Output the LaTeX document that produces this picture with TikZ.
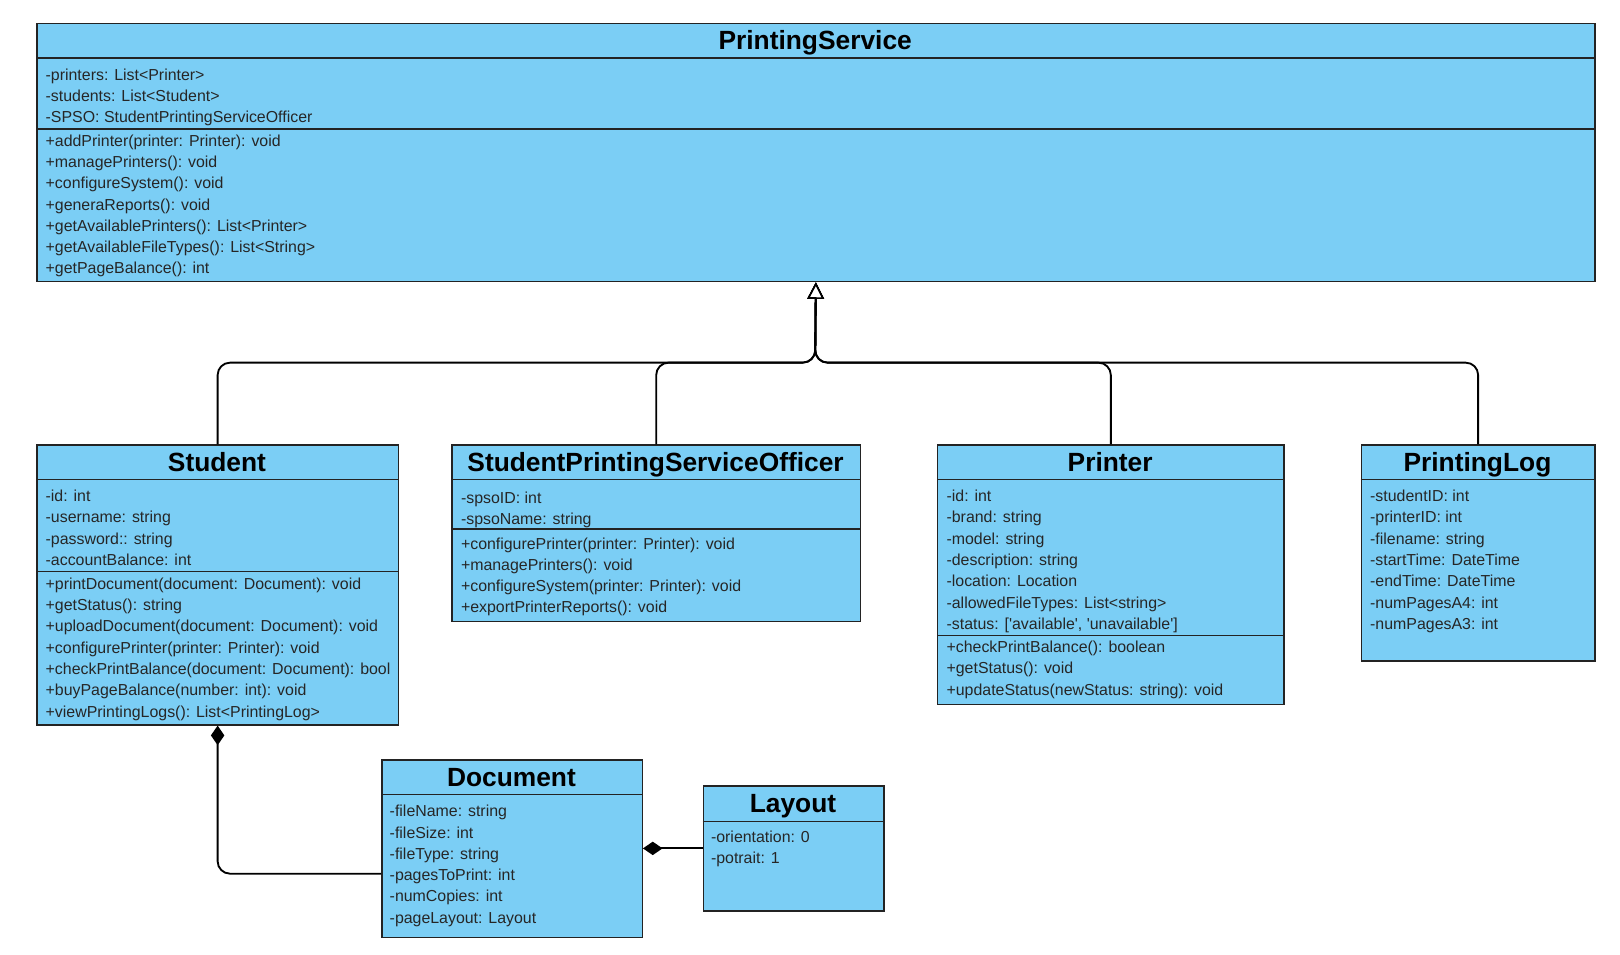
\documentclass[tikz,border=0pt]{standalone}
\usepackage{fontspec}
\setmainfont{Liberation Sans}
\usetikzlibrary{arrows.meta}
\definecolor{cls}{RGB}{123,206,245}
\definecolor{edgec}{RGB}{35,35,35}
\begin{document}
\begin{tikzpicture}[x=1pt,y=-1pt,
  classbox/.style={draw=edgec, line width=1.3pt, fill=cls, inner sep=0pt, anchor=north west},
  sepline/.style={draw=edgec, line width=1.3pt},
  ttl/.style={font=\fontsize{25.5}{28}\selectfont\bfseries, inner sep=0pt, text height=18.3pt, text depth=0pt, anchor=center},
  txt/.style={font=\fontsize{15.4}{18}\selectfont, inner sep=0pt, text height=13pt, text depth=0pt, anchor=west, text=black!85},
  conn/.style={draw=black, line width=1.8pt},
  gen/.style={conn, rounded corners=12pt, -{Triangle[length=16pt,width=16pt,fill=white,line width=1.6pt]}},
  comp/.style={conn, rounded corners=12pt, -{Diamond[length=19pt,width=13pt]}}
]
\useasboundingbox (0,0) rectangle (1568,923.5);

% PrintingService
\node[classbox, minimum width=1508pt, minimum height=250pt] (ps) at (35,22) {};
\draw[sepline] ([yshift=-34pt]ps.north west) -- ([yshift=-34pt]ps.north east);
\draw[sepline] ([yshift=-103pt]ps.north west) -- ([yshift=-103pt]ps.north east);
\node[ttl] (psT) at (789,39) {PrintingService};
\foreach \t [count=\i from 0] in {{-printers: List<Printer>},{-students: List<Student>},{-SPSO: StudentPrintingServiceOfficer}}
  \node[txt] (psA\i) at (44,71+20.6*\i) {\t};
\foreach \t [count=\i from 0] in {{+addPrinter(printer: Printer): void},{+managePrinters(): void},{+configureSystem(): void},{+generaReports(): void},{+getAvailablePrinters(): List<Printer>},{+getAvailableFileTypes(): List<String>},{+getPageBalance(): int}}
  \node[txt] (psM\i) at (44,135+20.6*\i) {\t};

% Student
\node[classbox, minimum width=350pt, minimum height=271pt] (stu) at (35,430) {};
\draw[sepline] ([yshift=-34pt]stu.north west) -- ([yshift=-34pt]stu.north east);
\draw[sepline] ([yshift=-123pt]stu.north west) -- ([yshift=-123pt]stu.north east);
\node[ttl] (stuT) at (210,447) {Student};
\foreach \t [count=\i from 0] in {{-id: int},{-username: string},{-password:: string},{-accountBalance: int}}
  \node[txt] (stuA\i) at (44,479+20.6*\i) {\t};
\foreach \t [count=\i from 0] in {{+printDocument(document: Document): void},{+getStatus(): string},{+uploadDocument(document: Document): void},{+configurePrinter(printer: Printer): void},{+checkPrintBalance(document: Document): bool},{+buyPageBalance(number: int): void},{+viewPrintingLogs(): List<PrintingLog>}}
  \node[txt] (stuM\i) at (44,564+20.6*\i) {\t};

% StudentPrintingServiceOfficer
\node[classbox, minimum width=395pt, minimum height=171pt] (spso) at (437,430) {};
\draw[sepline] ([yshift=-34pt]spso.north west) -- ([yshift=-34pt]spso.north east);
\draw[sepline] ([yshift=-82pt]spso.north west) -- ([yshift=-82pt]spso.north east);
\node[ttl] (spsoT) at (634.5,447) {StudentPrintingServiceOfficer};
\foreach \t [count=\i from 0] in {{-spsoID: int},{-spsoName: string}}
  \node[txt] (spsoA\i) at (446,481+20.6*\i) {\t};
\foreach \t [count=\i from 0] in {{+configurePrinter(printer: Printer): void},{+managePrinters(): void},{+configureSystem(printer: Printer): void},{+exportPrinterReports(): void}}
  \node[txt] (spsoM\i) at (446,525+20.6*\i) {\t};

% Printer
\node[classbox, minimum width=335pt, minimum height=251pt] (prn) at (907,430) {};
\draw[sepline] ([yshift=-34pt]prn.north west) -- ([yshift=-34pt]prn.north east);
\draw[sepline] ([yshift=-185pt]prn.north west) -- ([yshift=-185pt]prn.north east);
\node[ttl] (prnT) at (1074.5,447) {Printer};
\foreach \t [count=\i from 0] in {{-id: int},{-brand: string},{-model: string},{-description: string},{-location: Location},{-allowedFileTypes: List<string>},{-status: [\textquotesingle available\textquotesingle, \textquotesingle unavailable\textquotesingle]}}
  \node[txt] (prnA\i) at (916,479+20.6*\i) {\t};
\foreach \t [count=\i from 0] in {{+checkPrintBalance(): boolean},{+getStatus(): void},{+updateStatus(newStatus: string): void}}
  \node[txt] (prnM\i) at (916,625+20.6*\i) {\t};

% PrintingLog
\node[classbox, minimum width=226pt, minimum height=209pt] (plog) at (1317,430) {};
\draw[sepline] ([yshift=-34pt]plog.north west) -- ([yshift=-34pt]plog.north east);
\node[ttl] (plogT) at (1430,447) {PrintingLog};
\foreach \t [count=\i from 0] in {{-studentID: int},{-printerID: int},{-filename: string},{-startTime: DateTime},{-endTime: DateTime},{-numPagesA4: int},{-numPagesA3: int}}
  \node[txt] (plogA\i) at (1326,479+20.6*\i) {\t};

% Document
\node[classbox, minimum width=252pt, minimum height=172pt] (doc) at (369,735) {};
\draw[sepline] ([yshift=-34pt]doc.north west) -- ([yshift=-34pt]doc.north east);
\node[ttl] (docT) at (495,752) {Document};
\foreach \t [count=\i from 0] in {{-fileName: string},{-fileSize: int},{-fileType: string},{-pagesToPrint: int},{-numCopies: int},{-pageLayout: Layout}}
  \node[txt] (docA\i) at (377,784+20.6*\i) {\t};

% Layout
\node[classbox, minimum width=175pt, minimum height=121pt] (lay) at (680,760) {};
\draw[sepline] ([yshift=-35pt]lay.north west) -- ([yshift=-35pt]lay.north east);
\node[ttl] (layT) at (767.5,777.5) {Layout};
\foreach \t [count=\i from 0] in {{-orientation: 0},{-potrait: 1}}
  \node[txt] (layA\i) at (688,809+20.6*\i) {\t};

% Generalization connectors
\coordinate (hub) at (789,351);
\draw[gen] (stu.north) |- (hub) -- (ps.south);
\draw[gen] (spso.north) |- (hub) -- (ps.south);
\draw[gen] (prn.north) |- (hub) -- (ps.south);
\draw[gen] (plog.north) |- (hub) -- (ps.south);

% Composition connectors
\draw[comp] ([yshift=-24pt]doc.west) -| (stu.south);
\draw[comp] (lay.west) -- (lay.west -| doc.east);
\end{tikzpicture}
\end{document}
